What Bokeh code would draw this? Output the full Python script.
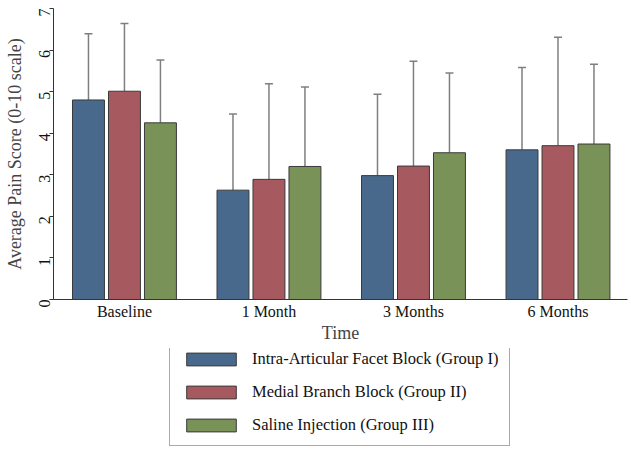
import math
from bokeh.plotting import figure
from bokeh.layouts import column
from bokeh.models import (ColumnDataSource, Range1d, FixedTicker, Whisker, TeeHead,
                          Legend, LegendItem)
from bokeh.embed import file_html
from bokeh.resources import INLINE

categories = ["Baseline", "1 Month", "3 Months", "6 Months"]
groups = ["Intra-Articular Facet Block (Group I)",
          "Medial Branch Block (Group II)",
          "Saline Injection (Group III)"]
means_g1 = [4.80, 2.63, 2.98, 3.60]
means_g2 = [5.01, 2.89, 3.21, 3.70]
means_g3 = [4.25, 3.20, 3.53, 3.74]
sd_g1 = [1.59, 1.83, 1.96, 1.98]
sd_g2 = [1.63, 2.30, 2.52, 2.61]
sd_g3 = [1.51, 1.91, 1.92, 1.92]
y_ticks = [0, 1, 2, 3, 4, 5, 6, 7]

colors = ["#49698c", "#a65a60", "#789257"]
FONT = "Liberation Serif"

p = figure(width=629, height=348, output_backend="svg",
           toolbar_location=None, x_range=Range1d(0.009, 3.981),
           y_range=Range1d(0, 7), min_border_left=53, min_border_right=2,
           min_border_top=8, min_border_bottom=49)
p.outline_line_color = None
p.xgrid.grid_line_color = None
p.ygrid.grid_line_color = None

offsets = [-0.249, 0.0, 0.249]
bar_w = 0.221
all_means = [means_g1, means_g2, means_g3]
all_sds = [sd_g1, sd_g2, sd_g3]
for gi in range(3):
    xs = [i + 0.5 + offsets[gi] for i in range(len(categories))]
    m = all_means[gi]
    up = [a + b for a, b in zip(m, all_sds[gi])]
    src = ColumnDataSource(dict(x=xs, top=m, upper=up))
    w = Whisker(base="x", lower="top", upper="upper", source=src,
                line_color="#7f7f7f", line_width=1.5,
                upper_head=TeeHead(size=8, line_color="#7f7f7f", line_width=1.5),
                lower_head=None, level="underlay")
    p.add_layout(w)
    p.vbar(x="x", top="top", width=bar_w, source=src,
           fill_color=colors[gi], line_color="#3a3a3a", line_width=1)

p.xaxis.ticker = FixedTicker(ticks=[i + 0.5 for i in range(len(categories))])
p.xaxis.major_label_overrides = {i + 0.5: c for i, c in enumerate(categories)}
p.xaxis.major_tick_line_color = None
p.xaxis.minor_tick_line_color = None
p.xaxis.major_tick_out = 0
p.xaxis.major_tick_in = 0
p.xaxis.axis_line_color = "#333333"
p.xaxis.major_label_text_font = FONT
p.xaxis.major_label_text_font_size = "16px"
p.xaxis.major_label_text_color = "#111111"
p.xaxis.major_label_text_line_height = 1.0
p.xaxis.major_label_standoff = 3
p.xaxis.axis_label = "Time"
p.xaxis.axis_label_text_font = FONT
p.xaxis.axis_label_text_font_size = "18px"
p.xaxis.axis_label_text_font_style = "normal"
p.xaxis.axis_label_text_line_height = 1.0
p.xaxis.axis_label_standoff = 0

p.yaxis.ticker = FixedTicker(ticks=y_ticks)
p.yaxis.minor_tick_line_color = None
p.yaxis.major_tick_out = 4
p.yaxis.major_tick_in = 0
p.yaxis.axis_line_color = "#333333"
p.yaxis.major_tick_line_color = "#333333"
p.yaxis.major_label_orientation = math.pi / 2
p.yaxis.major_label_text_font = FONT
p.yaxis.major_label_text_font_size = "16px"
p.yaxis.major_label_text_color = "#111111"
p.yaxis.major_label_standoff = 5
p.yaxis.axis_label = "Average Pain Score (0-10 scale)"
p.yaxis.axis_label_text_font = FONT
p.yaxis.axis_label_text_font_size = "18px"
p.yaxis.axis_label_text_font_style = "normal"
p.yaxis.axis_label_standoff = 6

# legend panel (separate figure so the legend is not clipped by the plot frame)
lf = figure(width=629, height=104, output_backend="svg", toolbar_location=None,
            x_range=Range1d(0, 1), y_range=Range1d(0, 1),
            x_axis_type=None, y_axis_type=None,
            min_border_left=53, min_border_right=2, min_border_top=0, min_border_bottom=0)
lf.outline_line_color = None
lf.xgrid.grid_line_color = None
lf.ygrid.grid_line_color = None
leg_renderers = []
for gi in range(3):
    r = lf.vbar(x=[-10], top=[-10], width=0.1, fill_color=colors[gi],
                line_color="#3a3a3a", line_width=1)
    leg_renderers.append(r)

legend = Legend(items=[LegendItem(label=groups[i], renderers=[leg_renderers[i]]) for i in range(3)],
                location=(116, 6), orientation="vertical")
legend.glyph_width = 62
legend.glyph_height = 16
legend.label_height = 16
legend.spacing = 13
legend.padding = 10
legend.margin = 0
legend.label_standoff = 10
legend.label_text_font = FONT
legend.label_text_font_size = "16.5px"
legend.label_text_color = "#111111"
legend.border_line_color = "#555555"
legend.border_line_width = 1
lf.add_layout(legend, "center")

layout = column(p, lf)
open("out.html", "w").write(file_html(layout, INLINE))
